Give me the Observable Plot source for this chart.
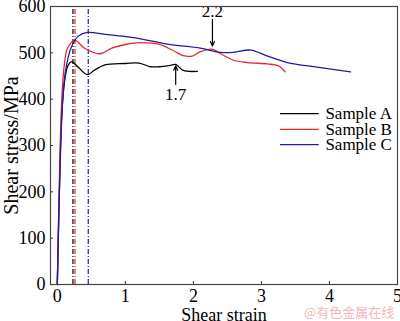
<!DOCTYPE html>
<html><head><meta charset="utf-8">
<script src="https://cdn.jsdelivr.net/npm/d3@7"></script>
<script src="https://cdn.jsdelivr.net/npm/@observablehq/plot@0.6"></script>
<style>
html,body{margin:0;padding:0;background:#fff;}
#chart{position:relative;width:400px;height:321px;}
#chart svg text{font-family:"Liberation Serif","Times New Roman","DejaVu Serif",serif;}
.wm{position:absolute;left:304px;top:302px;font:13px "Noto Sans CJK SC",sans-serif;color:#f2b8b8;}
</style>
</head><body><div id="chart"></div>
<script>
const seriesNames = ["Sample A","Sample B","Sample C"];
const seriesColors = ["#000000","#e8262a","#1c1ca8"];
const strainA = [0,0.03,0.06,0.1,0.15,0.21,0.3,0.44,0.55,0.7,1.0,1.2,1.37,1.5,1.66,1.74,1.85,2.06];
const stressA = [0,200,350,430,470,481,470,453,463,474,477,478,470,470,473,475,462,460];
const strainB = [0,0.03,0.06,0.1,0.15,0.26,0.4,0.63,0.8,1.0,1.22,1.5,1.7,1.85,1.98,2.1,2.27,2.4,2.59,2.8,3.09,3.25,3.35];
const stressB = [0,220,380,470,510,527,510,498,510,518,522,518,505,494,493,502,508,498,484,479,476,472,459];
const strainC = [0,0.04,0.08,0.12,0.2,0.3,0.44,0.7,1.12,1.62,2.1,2.4,2.59,2.84,3.09,3.38,3.82,4.31];
const stressC = [0,250,400,460,510,535,544,540,533,519,510,501,501,506,493,479,469,459];
const peakStrains = [0.23,0.26,0.455];
const xTicks = [0,1,2,3,4,5];
const yTicks = [0,100,200,300,400,500,600];
const legendY = [369,335,302];
const notes = [{x:1.74,text:"1.7",yText:410,y1:432,y2:472},{x:2.28,text:"2.2",yText:590,y1:572,y2:515}];

const rows = [];
[[strainA,stressA],[strainB,stressB],[strainC,stressC]].forEach(([xs,ys],i)=>{
  xs.forEach((x,j)=>rows.push({s:seriesNames[i],x,y:ys[j]}));
});
const vlines = peakStrains.map((x,i)=>({x,s:seriesNames[i]}));
const legend = seriesNames.map((s,i)=>({s,y:legendY[i]}));

const xMin=-0.1, xMax=5, pxX=347/5.1, pxY=278/600;

const chart = Plot.plot({
  width:400, height:321,
  marginLeft:50, marginRight:3, marginTop:6, marginBottom:37,
  style:{fontFamily:"'Liberation Serif', serif", fontSize:"18px", background:"#fff", overflow:"visible"},
  x:{domain:[xMin,xMax]},
  y:{domain:[0,600]},
  color:{domain:seriesNames, range:seriesColors},
  marks:[
    Plot.ruleX(vlines,{x:"x",y1:0,y2:600,stroke:"s",strokeWidth:1.2,strokeDasharray:"5,2,1,2"}),
    Plot.line(rows,{x:"x",y:"y",z:"s",stroke:"s",strokeWidth:1.3,curve:"catmull-rom"}),
    Plot.text(notes,{x:"x",y:"yText",text:"text",fontSize:17,fill:"#000"}),
    Plot.arrow(notes,{x1:"x",x2:"x",y1:"y1",y2:"y2",stroke:"#000",strokeWidth:1.2,headLength:6,headAngle:50}),
    Plot.ruleY(legend,{y:"y",x1:3.28,x2:3.85,stroke:"s",strokeWidth:1.3}),
    Plot.text(legend,{y:"y",x:3.94,text:"s",textAnchor:"start",fontSize:17,fill:"#000"}),
    Plot.ruleX(xTicks,{x:d=>d,y1:0,y2:3/pxY,stroke:"#333"}),
    Plot.ruleY(yTicks,{y:d=>d,x1:xMin,x2:xMin+3/pxX,stroke:"#333"}),
    Plot.axisX({ticks:xTicks,tickFormat:d=>String(d),tickSize:0,tickPadding:5,fontSize:18,label:null}),
    Plot.axisY({ticks:yTicks,tickFormat:d=>String(d),tickSize:0,tickPadding:5,fontSize:18,label:null}),
    Plot.axisX({ticks:[],label:"Shear strain",labelAnchor:"center",labelArrow:"none",labelOffset:36,fontSize:18}),
    Plot.axisY({ticks:[],label:"Shear stress/MPa",labelAnchor:"center",labelArrow:"none",labelOffset:47,fontSize:20}),
    Plot.frame({stroke:"#444",strokeWidth:1.2})
  ]
});
const host = document.getElementById("chart");
host.appendChild(chart);
const wm = document.createElement("div");
wm.className="wm"; wm.textContent="@有色金属在线";
host.appendChild(wm);
</script>
</body></html>
